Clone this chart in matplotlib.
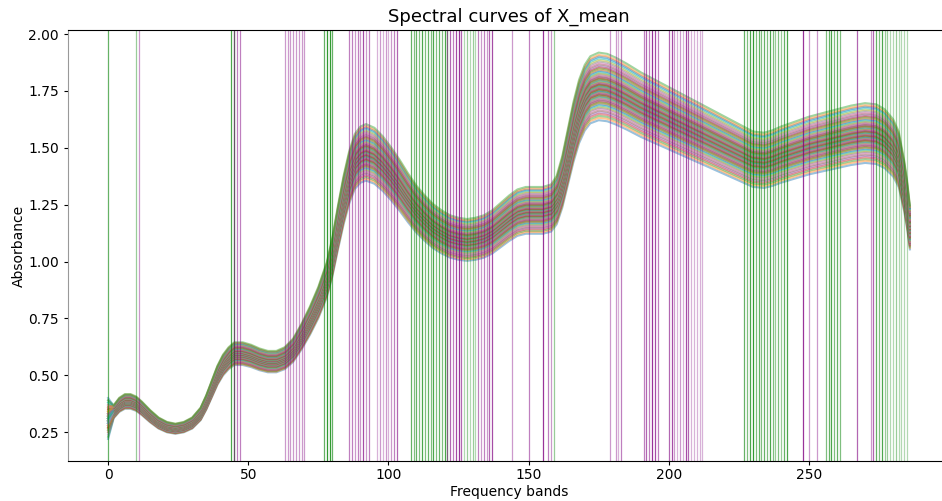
import matplotlib
matplotlib.use('Agg')
import matplotlib.pyplot as plt
import numpy as np

# mean spectrum (band, absorbance)
base_bands = [0, 2, 4, 6, 8, 10, 12, 15, 18, 21, 24, 27, 30, 33, 35, 37, 39, 41, 43, 45,
              48, 51, 54, 57, 60, 63, 66, 69, 72, 75, 78, 80, 82, 84, 86, 88, 90, 92, 95, 98,
              101, 104, 107, 110, 113, 116, 119, 122, 125, 128, 131, 134, 137, 140, 143, 146,
              149, 152, 155, 158, 160, 162, 164, 166, 168, 170, 172, 175, 178, 181, 185, 190,
              195, 200, 205, 210, 215, 220, 225, 230, 234, 237, 240, 245, 250, 255, 260, 265,
              270, 274, 277, 280, 282, 284, 285, 286]
base_abs = [0.29, 0.34, 0.37, 0.385, 0.385, 0.375, 0.355, 0.32, 0.29, 0.272, 0.265, 0.272,
            0.29, 0.33, 0.38, 0.44, 0.50, 0.545, 0.575, 0.595, 0.595, 0.585, 0.57, 0.56, 0.56,
            0.575, 0.61, 0.67, 0.74, 0.82, 0.92, 1.02, 1.15, 1.27, 1.37, 1.44, 1.47, 1.48,
            1.465, 1.43, 1.385, 1.335, 1.28, 1.23, 1.19, 1.155, 1.13, 1.11, 1.10, 1.095, 1.10,
            1.11, 1.13, 1.16, 1.19, 1.215, 1.225, 1.225, 1.225, 1.235, 1.27, 1.35, 1.46, 1.57,
            1.66, 1.72, 1.755, 1.77, 1.765, 1.75, 1.725, 1.69, 1.66, 1.63, 1.60, 1.57, 1.54,
            1.51, 1.48, 1.45, 1.445, 1.455, 1.47, 1.49, 1.51, 1.525, 1.54, 1.555, 1.565,
            1.56, 1.54, 1.50, 1.45, 1.33, 1.25, 1.15]

# per-sample scale of the spectrum, and its value at band 0
sample_scale = [0.916, 0.922, 0.927, 0.932, 0.936, 0.94, 0.944, 0.947, 0.95, 0.953,
                0.956, 0.959, 0.961, 0.964, 0.966, 0.968, 0.97, 0.972, 0.974, 0.975,
                0.977, 0.978, 0.98, 0.981, 0.983, 0.984, 0.985, 0.987, 0.988, 0.989,
                0.99, 0.992, 0.993, 0.994, 0.996, 0.997, 0.998, 0.999, 1.0, 1.001,
                1.003, 1.004, 1.005, 1.006, 1.008, 1.009, 1.01, 1.012, 1.013, 1.015,
                1.017, 1.018, 1.02, 1.022, 1.024, 1.026, 1.028, 1.031, 1.033, 1.036,
                1.039, 1.042, 1.045, 1.048, 1.051, 1.055, 1.058, 1.062, 1.066, 1.07,
                1.074, 1.078, 1.084]
sample_start = [0.22, 0.25, 0.23, 0.27, 0.24, 0.26, 0.28, 0.25, 0.27, 0.29,
                0.26, 0.28, 0.3, 0.27, 0.29, 0.31, 0.28, 0.3, 0.26, 0.29,
                0.31, 0.28, 0.3, 0.32, 0.29, 0.27, 0.31, 0.3, 0.28, 0.32,
                0.3, 0.33, 0.29, 0.31, 0.28, 0.32, 0.3, 0.34, 0.31, 0.29,
                0.33, 0.3, 0.32, 0.35, 0.31, 0.33, 0.29, 0.34, 0.32, 0.3,
                0.35, 0.33, 0.31, 0.36, 0.32, 0.34, 0.37, 0.33, 0.35, 0.31,
                0.36, 0.34, 0.38, 0.35, 0.33, 0.37, 0.36, 0.39, 0.34, 0.38,
                0.4, 0.36, 0.39]

# selected bands (green / purple) and their line alpha
green_bands = [0, 10, 44, 45, 77, 78, 79, 80,
               108, 109, 110, 111, 112, 113, 114, 115, 116, 117, 118, 119, 120, 121,
               127, 128, 129, 130, 131, 159,
               227, 228, 229, 230, 231, 232, 233, 234, 235, 236, 237, 238, 239, 240, 241, 242,
               256, 257, 258, 259, 260, 261,
               274, 275, 276, 277, 278, 279, 280, 281, 282, 283, 284, 285]
green_alpha = [0.6, 0.4, 0.7, 0.7, 0.6, 0.8, 0.8, 0.6,
               0.6, 0.5, 0.6, 0.5, 0.7, 0.5, 0.6, 0.5, 0.7, 0.5, 0.6, 0.5, 0.7, 0.5,
               0.3, 0.4, 0.3, 0.4, 0.3, 0.4,
               0.6, 0.5, 0.7, 0.8, 0.5, 0.6, 0.5, 0.6, 0.5, 0.7, 0.5, 0.4, 0.5, 0.4, 0.6, 0.7,
               0.5, 0.6, 0.7, 0.5, 0.6, 0.5,
               0.6, 0.5, 0.7, 0.4, 0.4, 0.3, 0.3, 0.4, 0.3, 0.3, 0.3, 0.3]
purple_bands = [11, 45, 46, 47, 63, 64, 65, 66, 67, 68, 69, 70,
                86, 87, 88, 89, 90, 91, 92, 93, 96, 97, 98, 99, 100, 101, 102, 103,
                121, 122, 123, 124, 125, 126, 132, 133, 134, 135, 136, 137,
                144, 150, 155, 157, 158, 179, 181, 182, 183,
                191, 192, 193, 194, 195, 196,
                200, 201, 202, 203, 204, 205, 206, 207, 208, 209, 210, 211, 212,
                248, 250, 253, 267, 272, 273]
purple_alpha = [0.4, 0.5, 0.5, 0.5, 0.4, 0.4, 0.4, 0.4, 0.4, 0.4, 0.4, 0.4,
                0.5, 0.5, 0.4, 0.5, 0.4, 0.7, 0.4, 0.5, 0.3, 0.4, 0.3, 0.4, 0.3, 0.4, 0.5, 0.6,
                0.5, 0.6, 0.5, 0.7, 0.8, 0.6, 0.5, 0.4, 0.5, 0.4, 0.6, 0.7,
                0.4, 0.5, 0.8, 0.5, 0.4, 0.4, 0.4, 0.3, 0.5,
                0.5, 0.6, 0.5, 0.8, 0.7, 0.5,
                0.6, 0.7, 0.4, 0.3, 0.4, 0.3, 0.7, 0.6, 0.3, 0.3, 0.3, 0.3, 0.3,
                0.8, 0.4, 0.4, 0.6, 0.4, 0.6]

fig = plt.figure(figsize=(9.42, 5.01), dpi=100)
ax = fig.add_axes([68 / 942, 40 / 501, 882 / 942, 431 / 501])

x = np.array(base_bands)
y = np.array(base_abs)
for s, y0 in zip(sample_scale, sample_start):
    yy = y * s
    yy[0] = y0
    ax.plot(x, yy, lw=1.5, alpha=0.45)

for b, a in zip(green_bands, green_alpha):
    ax.axvline(b, color='green', alpha=a, lw=0.9)
for b, a in zip(purple_bands, purple_alpha):
    ax.axvline(b, color='purple', alpha=a, lw=0.9)

ax.set_xlim(-14.3, 300.3)
ax.set_ylim(0.123, 2.018)
ax.set_xticks([0, 50, 100, 150, 200, 250])
ax.set_title('Spectral curves of X_mean', fontsize=13)
ax.set_xlabel('Frequency bands', fontsize=10, labelpad=2)
ax.set_ylabel('Absorbance', fontsize=10, labelpad=2)
ax.tick_params(labelsize=10, length=3)
ax.tick_params(axis='x', pad=2)
ax.spines['left'].set_color('#999999')

plt.savefig('out.png', dpi=100)
